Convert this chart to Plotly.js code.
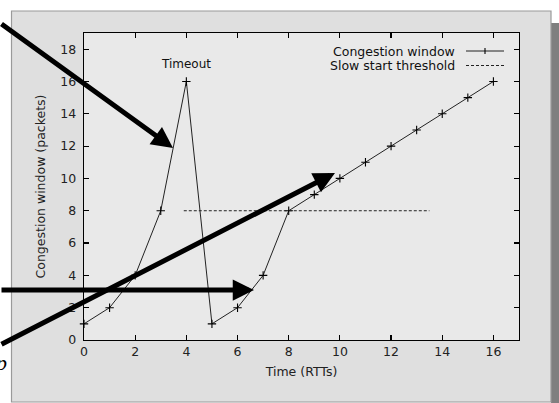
<!DOCTYPE html>
<html>
<head>
<meta charset="utf-8">
<script src="https://cdn.plot.ly/plotly-3.0.1.min.js"></script>
<style>html,body{margin:0;padding:0;background:#fff;}#chart{width:559px;height:403px;}</style>
</head>
<body>
<div id="chart"></div>
<script>
// Data
var rtt = [0, 1, 2, 3, 4, 5, 6, 7, 8, 9, 10, 11, 12, 13, 14, 15, 16];
var cwnd = [1, 2, 4, 8, 16, 1, 2, 4, 8, 9, 10, 11, 12, 13, 14, 15, 16];
var thresholdX = [3.9, 13.5];
var thresholdY = [8, 8];
var seriesNames = ['Congestion window', 'Slow start threshold'];
var xTicks = [0, 2, 4, 6, 8, 10, 12, 14, 16];
var yTicks = [0, 2, 4, 6, 8, 10, 12, 14, 16, 18];

// plot-area geometry (pixels) used to convert decorations to paper coords
var L = 84, R = 40, T = 33, B = 63, W = 559, H = 403;
var PW = W - L - R, PH = H - T - B;
function px(x) { return (x - L) / PW; }
function py(y) { return (H - B - y) / PH; }

var FONT = 'DejaVu Sans, sans-serif';

var traces = [
  {
    x: rtt, y: cwnd, name: seriesNames[0], type: 'scatter', mode: 'lines+markers',
    line: {color: '#222', width: 1},
    marker: {symbol: 'cross-thin', size: 6, color: '#000', line: {color: '#000', width: 1.1}},
    showlegend: false, cliponaxis: false
  },
  {
    x: thresholdX, y: thresholdY, name: seriesNames[1], type: 'scatter', mode: 'lines',
    line: {color: '#222', width: 1, dash: '3px,2px'},
    showlegend: false
  }
];

var shapes = [
  // drop shadow
  {type: 'rect', xref: 'paper', yref: 'paper', layer: 'below',
   x0: px(551), x1: px(570), y0: py(420), y1: py(23),
   fillcolor: '#7f7f7f', line: {width: 0}},
  // panel
  {type: 'rect', xref: 'paper', yref: 'paper', layer: 'below',
   x0: px(11.5), x1: px(551), y0: py(402), y1: py(11),
   fillcolor: '#dfdfdf', line: {color: '#9a9a9a', width: 1.2}},
  // plot area
  {type: 'rect', xref: 'paper', yref: 'paper', layer: 'below',
   x0: 0, x1: 1, y0: 0, y1: 1,
   fillcolor: '#e9e9e9', line: {width: 0}},
  // legend samples
  {type: 'line', xref: 'paper', yref: 'paper', x0: px(466), x1: px(504), y0: py(51), y1: py(51),
   line: {color: '#222', width: 1}},
  {type: 'line', xref: 'paper', yref: 'paper', x0: px(485), x1: px(485), y0: py(48), y1: py(54),
   line: {color: '#000', width: 1.1}},
  {type: 'line', xref: 'paper', yref: 'paper', x0: px(466), x1: px(505), y0: py(65.5), y1: py(65.5),
   line: {color: '#222', width: 1, dash: '3px,2px'}}
];

var annotations = [
  {x: 4, y: 16, xref: 'x', yref: 'y', text: 'Timeout', showarrow: false,
   yshift: 17, font: {family: FONT, size: 12, color: '#111'}},
  {x: px(457), y: py(51), xref: 'paper', yref: 'paper', xanchor: 'right', yanchor: 'middle',
   text: seriesNames[0], showarrow: false, font: {family: FONT, size: 12.5, color: '#111'}},
  {x: px(457), y: py(65.5), xref: 'paper', yref: 'paper', xanchor: 'right', yanchor: 'middle',
   text: seriesNames[1], showarrow: false, font: {family: FONT, size: 12.5, color: '#111'}},
  // overlay arrows
  {x: px(173), y: py(148), xref: 'paper', yref: 'paper', text: '', showarrow: true,
   ax: -185, ay: -125, arrowhead: 2, arrowwidth: 5, arrowsize: 0.85, arrowcolor: '#000', standoff: 0},
  {x: px(254), y: py(290), xref: 'paper', yref: 'paper', text: '', showarrow: true,
   ax: -270, ay: 0, arrowhead: 2, arrowwidth: 5, arrowsize: 0.85, arrowcolor: '#000', standoff: 0},
  {x: px(335), y: py(173), xref: 'paper', yref: 'paper', text: '', showarrow: true,
   ax: -350, ay: 172, arrowhead: 2, arrowwidth: 5, arrowsize: 0.85, arrowcolor: '#000', standoff: 0},
  {x: px(9), y: py(362), xref: 'paper', yref: 'paper', xanchor: 'right', yanchor: 'middle',
   text: '<i>p</i>', showarrow: false, font: {family: 'Liberation Serif, serif', size: 22, color: '#000'}}
];

var axisCommon = {
  showgrid: false, zeroline: false, showline: true, mirror: 'ticks',
  linecolor: '#000', linewidth: 1.3, ticks: 'inside', ticklen: 5, tickwidth: 1.2, tickcolor: '#000',
  tickfont: {family: FONT, size: 12.5, color: '#222'}, fixedrange: true
};

var layout = {
  width: W, height: H,
  margin: {l: L, r: R, t: T, b: B, pad: 0},
  paper_bgcolor: '#ffffff', plot_bgcolor: 'rgba(0,0,0,0)',
  showlegend: false,
  xaxis: Object.assign({}, axisCommon, {
    range: [0, 17], tickvals: xTicks, ticktext: xTicks.map(String),
    title: {text: 'Time (RTTs)', font: {family: FONT, size: 12.5, color: '#222'}, standoff: 9}
  }),
  yaxis: Object.assign({}, axisCommon, {
    range: [0, 19], tickvals: yTicks, ticktext: yTicks.map(String), ticklabelstandoff: 4,
    title: {text: 'Congestion window (packets)', font: {family: FONT, size: 12.5, color: '#222'}, standoff: 12}
  }),
  shapes: shapes,
  annotations: annotations
};

Plotly.newPlot('chart', traces, layout, {displayModeBar: false, staticPlot: true});
</script>
</body>
</html>
